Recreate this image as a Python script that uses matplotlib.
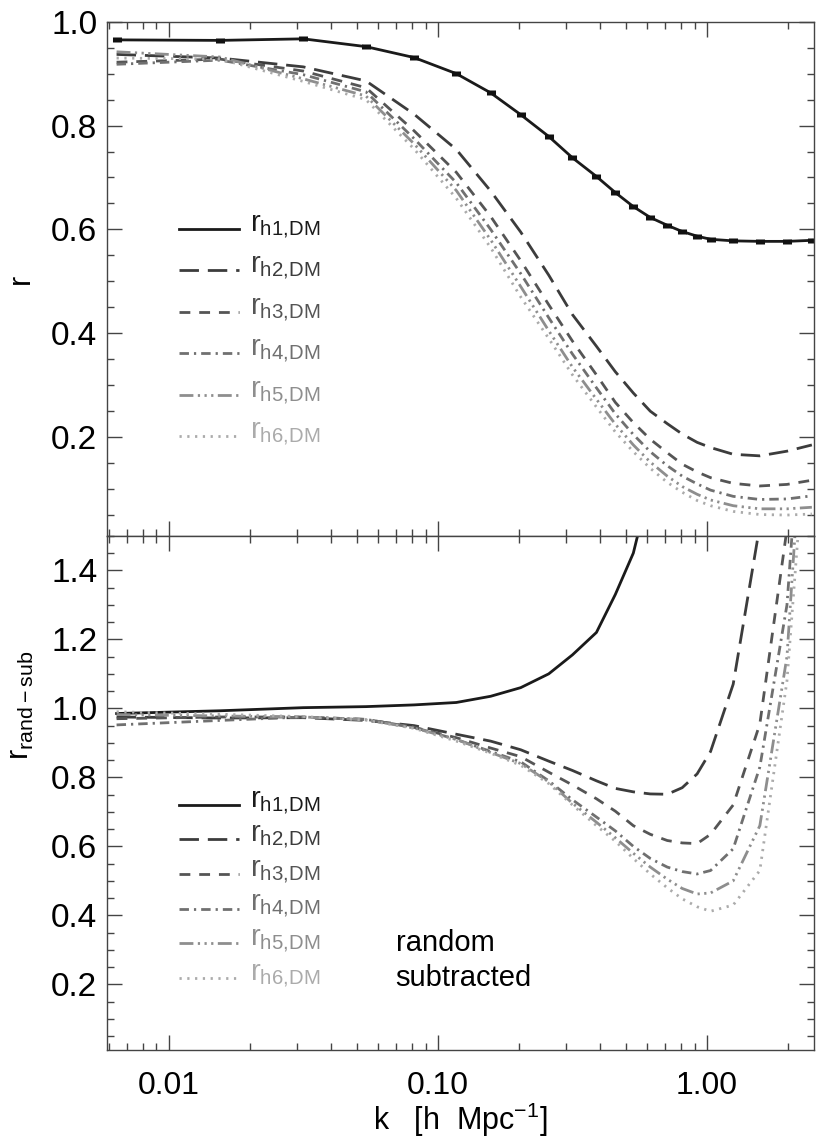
import matplotlib
matplotlib.use("Agg")
import matplotlib.pyplot as plt
from matplotlib.ticker import FixedLocator, MultipleLocator, LogLocator, NullFormatter

plt.rcParams["font.family"] = ["Liberation Sans", "DejaVu Sans"]
plt.rcParams["mathtext.fontset"] = "custom"
plt.rcParams["mathtext.rm"] = "Liberation Sans"

k = [0.0064, 0.0155, 0.0316, 0.054, 0.0815, 0.117, 0.157, 0.203, 0.258, 0.316, 0.388,
     0.456, 0.532, 0.615, 0.711, 0.808, 0.918, 1.03, 1.25, 1.57, 1.98, 2.45]

# top panel: cross-correlation coefficient
r_h1 = [0.965, 0.964, 0.967, 0.952, 0.931, 0.900, 0.863, 0.821, 0.779, 0.738, 0.702,
        0.671, 0.644, 0.623, 0.608, 0.596, 0.587, 0.581, 0.578, 0.577, 0.577, 0.579]
r_h1_err = [0.005, 0.005, 0.005, 0.005, 0.005, 0.005, 0.005, 0.005, 0.005, 0.005, 0.005,
            0.005, 0.005, 0.005, 0.005, 0.005, 0.005, 0.005, 0.005, 0.005, 0.005, 0.005]
r_h2 = [0.937, 0.930, 0.913, 0.886, 0.822, 0.754, 0.674, 0.595, 0.512, 0.436, 0.375,
        0.326, 0.285, 0.250, 0.226, 0.206, 0.190, 0.180, 0.167, 0.164, 0.173, 0.185]
r_h3 = [0.922, 0.928, 0.905, 0.873, 0.790, 0.710, 0.625, 0.540, 0.455, 0.385, 0.320,
        0.267, 0.228, 0.196, 0.170, 0.148, 0.133, 0.122, 0.111, 0.106, 0.109, 0.117]
r_h4 = [0.918, 0.926, 0.898, 0.865, 0.775, 0.690, 0.600, 0.515, 0.430, 0.360, 0.295,
        0.245, 0.205, 0.172, 0.145, 0.125, 0.110, 0.098, 0.086, 0.080, 0.081, 0.087]
r_h5 = [0.942, 0.932, 0.890, 0.857, 0.765, 0.675, 0.580, 0.490, 0.405, 0.335, 0.273,
        0.225, 0.185, 0.152, 0.125, 0.105, 0.090, 0.079, 0.068, 0.062, 0.062, 0.065]
r_h6 = [0.930, 0.928, 0.885, 0.850, 0.755, 0.660, 0.565, 0.470, 0.390, 0.320, 0.258,
        0.210, 0.172, 0.140, 0.113, 0.094, 0.078, 0.068, 0.057, 0.051, 0.050, 0.052]

# bottom panel: random subtracted
rs_h1 = [0.985, 0.993, 1.002, 1.005, 1.010, 1.017, 1.035, 1.060, 1.100, 1.155, 1.220,
         1.330, 1.450, 1.650]
rs_h2 = [0.975, 0.972, 0.973, 0.965, 0.950, 0.925, 0.905, 0.880, 0.847, 0.820, 0.790,
         0.768, 0.758, 0.752, 0.751, 0.770, 0.810, 0.875, 1.070, 1.530]
rs_h3 = [0.970, 0.975, 0.975, 0.968, 0.945, 0.915, 0.885, 0.860, 0.815, 0.778, 0.738,
         0.702, 0.660, 0.635, 0.617, 0.610, 0.608, 0.635, 0.720, 0.955, 1.520]
rs_h4 = [0.952, 0.965, 0.975, 0.968, 0.945, 0.910, 0.875, 0.845, 0.790, 0.735, 0.685,
         0.645, 0.600, 0.565, 0.540, 0.527, 0.520, 0.530, 0.593, 0.830, 1.300, 2.300]
rs_h5 = [0.982, 0.978, 0.975, 0.967, 0.943, 0.910, 0.872, 0.840, 0.787, 0.725, 0.670,
         0.625, 0.580, 0.540, 0.505, 0.478, 0.462, 0.465, 0.500, 0.660, 1.150, 2.250]
rs_h6 = [0.990, 0.983, 0.976, 0.966, 0.942, 0.905, 0.870, 0.835, 0.782, 0.720, 0.660,
         0.615, 0.565, 0.520, 0.480, 0.448, 0.425, 0.412, 0.430, 0.530, 1.080, 2.030]

labels = ["h1{,}DM", "h2{,}DM", "h3{,}DM", "h4{,}DM", "h5{,}DM", "h6{,}DM"]
colors = ["#1a1a1a", "#3c3c3c", "#555555", "#707070", "#8e8e8e", "#ababab"]
styles = ["-", (0, (7.0, 3.2)), (0, (3.9, 3.2)), (0, (3.4, 1.8, 0.8, 1.8)),
          (0, (5.0, 1.6, 0.8, 1.6, 0.8, 1.6, 0.8, 1.6)), (0, (0.8, 2.0))]
lw = 2.0

fig, (ax1, ax2) = plt.subplots(2, 1, figsize=(8.3, 11.42), dpi=100, sharex=True)
fig.subplots_adjust(left=0.129, right=0.981, top=0.981, bottom=0.0806, hspace=0)

top = [r_h1, r_h2, r_h3, r_h4, r_h5, r_h6]
bot = [rs_h1, rs_h2, rs_h3, rs_h4, rs_h5, rs_h6]

for i in range(6):
    ax1.plot(k[:len(top[i])], top[i], color=colors[i], ls=styles[i], lw=lw)
    ax2.plot(k[:len(bot[i])], bot[i], color=colors[i], ls=styles[i], lw=lw)

ax1.errorbar(k, r_h1, yerr=r_h1_err, fmt="none", ecolor="#111111", elinewidth=6.5)

# legends drawn by hand, IDL style
for ax, y0, dy in [(ax1, 0.597, 0.0807), (ax2, 0.477, 0.0673)]:
    for i in range(6):
        y = y0 - i * dy
        ax.plot([0.102, 0.187], [y, y], transform=ax.transAxes, color=colors[i],
                ls=styles[i], lw=lw, clip_on=False)
        ax.text(0.202, y + 0.004, r"$\mathregular{r_{%s}}$" % labels[i], transform=ax.transAxes,
                color=colors[i], fontsize=21, va="center", ha="left")

ax2.text(0.408, 0.208, "random", transform=ax2.transAxes, fontsize=21, va="center")
ax2.text(0.408, 0.140, "subtracted", transform=ax2.transAxes, fontsize=21, va="center")

ax1.set_xscale("log")
ax1.set_xlim(0.0059, 2.5)
ax1.set_ylim(0.01, 1.0)
ax2.set_ylim(0.01, 1.5)

ax1.yaxis.set_major_locator(FixedLocator([0.2, 0.4, 0.6, 0.8, 1.0]))
ax2.yaxis.set_major_locator(FixedLocator([0.2, 0.4, 0.6, 0.8, 1.0, 1.2, 1.4]))
for ax in (ax1, ax2):
    ax.yaxis.set_minor_locator(MultipleLocator(0.05))
    ax.yaxis.set_major_formatter(plt.FuncFormatter(lambda v, p: "%.1f" % v))
    ax.xaxis.set_major_locator(FixedLocator([0.01, 0.1, 1.0]))
    ax.xaxis.set_minor_locator(LogLocator(base=10, subs=[2, 3, 4, 5, 6, 7, 8, 9]))
    ax.xaxis.set_minor_formatter(NullFormatter())
    ax.tick_params(which="both", direction="in", top=True, right=True, color="#444444")
    ax.tick_params(which="major", length=10.5, width=1.0)
    ax.tick_params(which="minor", length=5.0, width=1.0)
    ax.tick_params(axis="y", labelsize=24, pad=7)
    ax.tick_params(axis="x", labelsize=23, pad=15)
    for s in ax.spines.values():
        s.set_color("#444444")
        s.set_linewidth(1.0)

ax2.xaxis.set_major_formatter(plt.FuncFormatter(lambda v, p: "%.2f" % v))

ax1.set_ylabel("r", fontsize=22)
ax1.yaxis.set_label_coords(-0.10, 0.5)
ax2.set_ylabel(r"$\mathregular{r_{rand-sub}}$", fontsize=22)
ax2.yaxis.set_label_coords(-0.10, 0.67)
ax2.set_xlabel(r"k   [h  Mpc$^{\mathregular{-1}}$]", fontsize=22, labelpad=0)

plt.savefig("out.png", dpi=100)
